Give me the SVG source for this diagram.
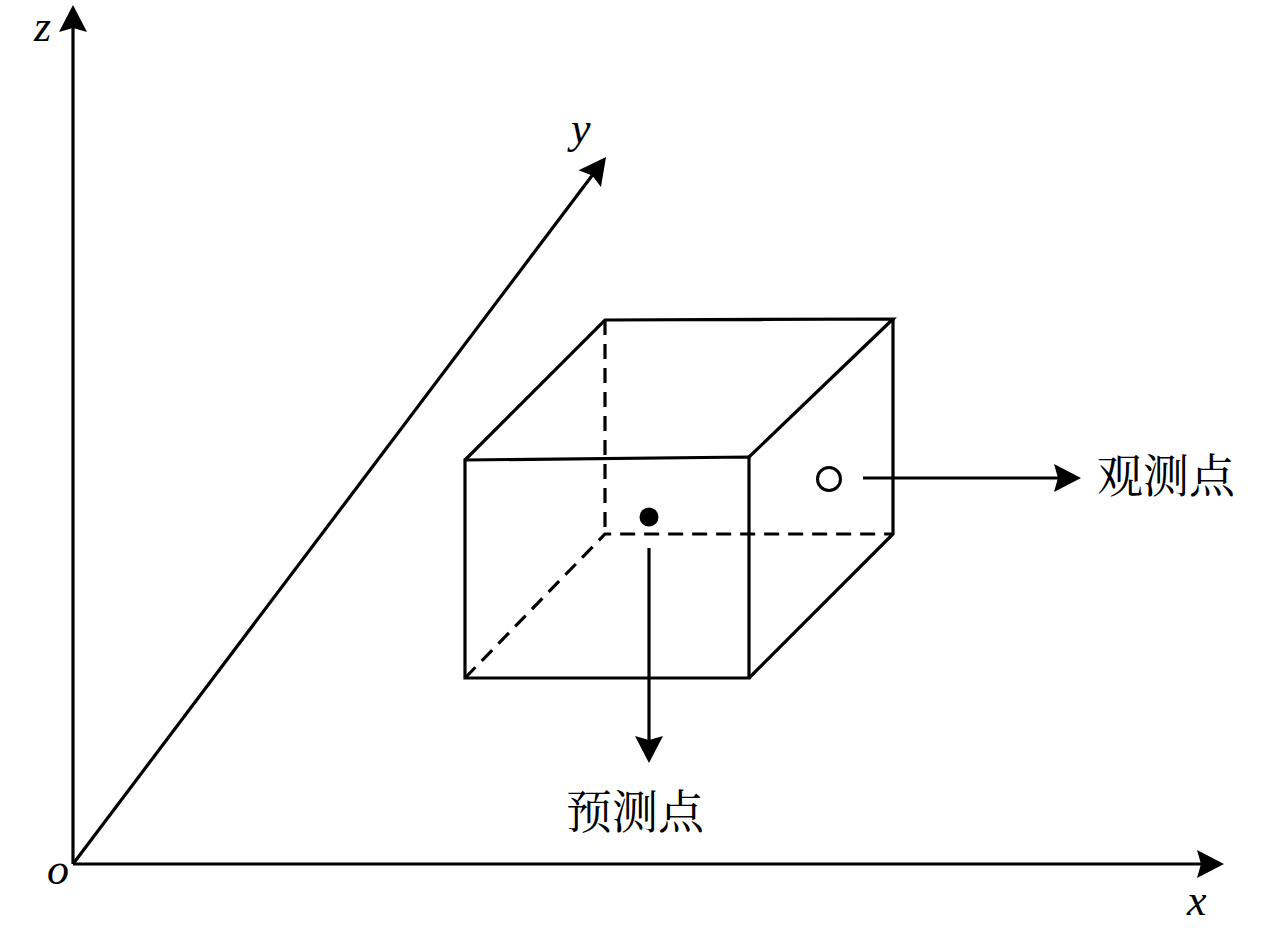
<svg xmlns="http://www.w3.org/2000/svg" width="1280" height="935" viewBox="0 0 1280 935">
<style>
.ln{fill:none;stroke:#000;stroke-width:3.2;stroke-linejoin:miter;stroke-linecap:butt}
.dash{fill:none;stroke:#000;stroke-width:3.2;stroke-dasharray:15 9}
.math{font-family:"Liberation Serif","DejaVu Serif",serif;font-style:italic;font-size:44px;fill:#000}
.cjk{font-family:"Noto Serif CJK SC","Noto Sans CJK SC",sans-serif;font-size:46px;fill:#000}
</style>
<defs>
<marker id="ah" viewBox="-28 -15 30 30" markerWidth="30" markerHeight="30" refX="-15" refY="0" orient="auto" markerUnits="userSpaceOnUse">
<path d="M0,0 L-27,-14 L-23,0 L-27,14 Z" fill="#000"/>
</marker>
</defs>
<rect width="1280" height="935" fill="#fff"/>
<g id="axes">
<path class="ln" d="M73,864 L73,20" marker-end="url(#ah)"/>
<path class="ln" d="M73,864 L1209,864" marker-end="url(#ah)"/>
<path class="ln" d="M73,864 L597,169" marker-end="url(#ah)"/>
<text class="math" x="34" y="41">z</text>
<text class="math" x="571" y="143">y</text>
<text class="math" x="47" y="884">o</text>
<text class="math" x="1187" y="915">x</text>
</g>
<g id="box">
<path class="dash" d="M605,320 L605,534"/>
<path class="dash" d="M465,678 L605,534 L893,534"/>
<path class="ln" d="M465,460 L749,457 L749,678 L465,678 Z"/>
<path class="ln" d="M465,460 L605,320 L893,319 L749,457"/>
<path class="ln" d="M893,319 L893,534 L749,678"/>
</g>
<g id="predict-point">
<circle cx="649" cy="517" r="9.5" fill="#000"/>
</g>
<g id="observe-point">
<circle cx="829" cy="479" r="11.5" fill="none" stroke="#000" stroke-width="3"/>
</g>
<g id="connectors">
<path class="ln" d="M863,478 L1066,478" marker-end="url(#ah)"/>
<path class="ln" d="M649,548 L649,748" marker-end="url(#ah)"/>
</g>
<g id="label-observe">
<text class="cjk" x="1097" y="492">观测点</text>
</g>
<g id="label-predict">
<text class="cjk" x="566" y="828">预测点</text>
</g>
</svg>
